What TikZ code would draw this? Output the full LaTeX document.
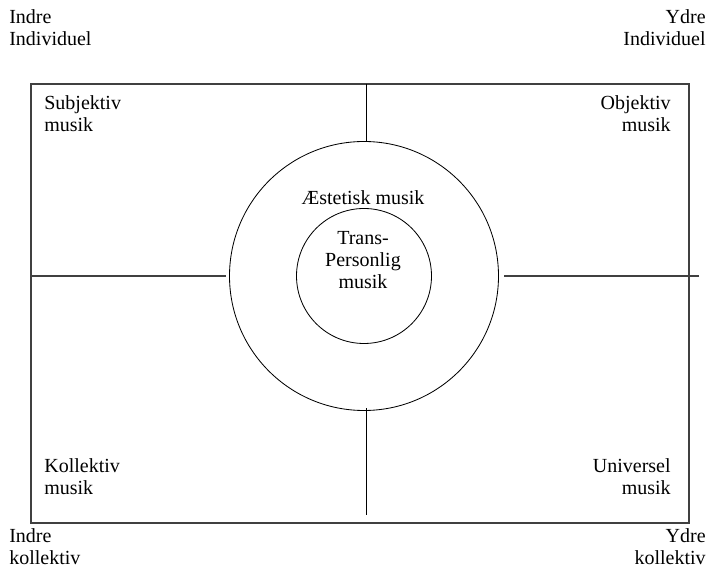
\documentclass[tikz,border=0pt]{standalone}
\usepackage{fontspec}
\setmainfont{Liberation Serif}
\usetikzlibrary{positioning,calc}
\tikzset{
	lbl/.style={inner sep=0pt, font=\fontsize{12}{13.2}\selectfont},
	lbll/.style={lbl, align=left, anchor=base west},
	lblr/.style={lbl, align=right, anchor=base east},
	ring/.style={circle, draw, inner sep=0pt, line width=0.5pt},
	axis/.style={draw=black!75, line width=0.8pt},
}
\begin{document}
\begin{tikzpicture}[x=0.6pt,y=-0.6pt]
	\useasboundingbox (0,0) rectangle (713,571);
	\node[axis, minimum width=394.8pt, minimum height=263.4pt, inner sep=0pt] (frame) at (360,303.5) {};
	\node[ring, minimum size=161.4pt] (aest) at (364,276) {};
	\node[ring, minimum size=81pt] (trans) at (364,276) {};
	\coordinate (vtop) at (366,84);
	\coordinate (vbot) at (366,515);
	\coordinate (hleft) at (31,276);
	\coordinate (hright) at (699,276);
	\draw (vtop)--(vtop |- aest.north);
	\draw (vbot)--([yshift=2pt]vbot |- aest.south);
	\draw[axis] (hleft)--([xshift=-2pt]aest.west);
	\draw[axis] (hright)--([xshift=3pt]aest.east);
	% base anchor sits on the last line
	\node[lbll] (indind) at (9,46) {Indre\\Individuel};
	\node[lblr] (ydrind) at (706,46) {Ydre\\Individuel};
	\node[lbll] (subj) at (44,132) {Subjektiv\\musik};
	\node[lblr] (obj) at (671,132) {Objektiv\\musik};
	\node[lbll] (koll) at (44,495) {Kollektiv\\musik};
	\node[lblr] (univ) at (671,495) {Universel\\musik};
	\node[lbll] (indkol) at (9,565) {Indre\\kollektiv};
	\node[lblr] (ydrkol) at (706,565) {Ydre\\kollektiv};
	\node[lbl, anchor=base] (aesttxt) at (363,205) {Æstetisk musik};
	\node[lbl, align=center, anchor=base] (transtxt) at (363,289) {Trans-\\Personlig\\musik};
\end{tikzpicture}
\end{document}
